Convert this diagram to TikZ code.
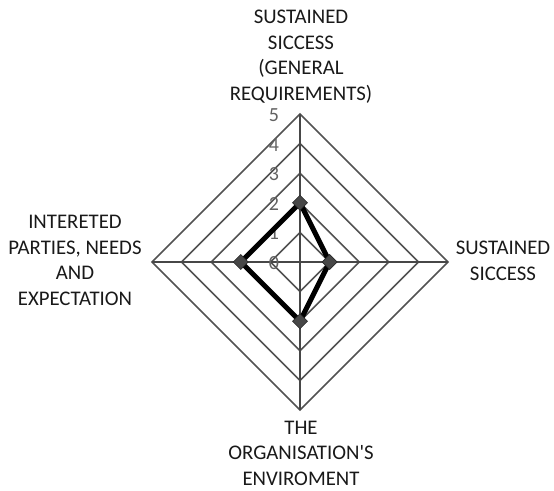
\documentclass[tikz,border=0pt]{standalone}
\usepackage{fontspec}
\setmainfont{Carlito}
\usetikzlibrary{calc}
\begin{document}
\begin{tikzpicture}[x=1pt,y=-1pt,
  grid/.style={draw=black!68,line width=1.6pt},
  spoke/.style={draw=black!72,line width=2.2pt},
  series/.style={draw=black,line width=5pt,line join=round},
  markerfill/.style={fill=black!72,draw=black!85,line width=0.6pt},
  lbl/.style={align=center,font=\fontsize{20.8}{25.6}\selectfont,text=black!90,inner sep=0pt},
  tick/.style={font=\fontsize{20}{22}\selectfont,text=black!62,inner sep=0pt}]
\useasboundingbox (0,0) rectangle (554,490);
\def\u{29.6}
\coordinate (c) at (300,262);
% grid diamonds
\foreach \k in {1,...,5}{
  \draw[grid] (300,262-\k*\u) -- (300+\k*\u,262) -- (300,262+\k*\u) -- (300-\k*\u,262) -- cycle;
}
% spokes
\coordinate (vt) at (300,262-5*\u);
\coordinate (vr) at (300+5*\u,262);
\coordinate (vb) at (300,262+5*\u);
\coordinate (vl) at (300-5*\u,262);
\draw[spoke] (c) -- (vt);
\draw[spoke] (c) -- (vr);
\draw[spoke] (c) -- (vb);
\draw[spoke] (c) -- (vl);
% tick labels
\foreach \k in {0,...,5}{
  \node[tick] (t\k) at (274,263-\k*\u) {\k};
}
% data
\coordinate (dt) at (300,262-2*\u);
\coordinate (dr) at (300+1*\u,262);
\coordinate (db) at (300,262+2*\u);
\coordinate (dl) at (300-2*\u,262);
\draw[series] (dt) -- (dr) -- (db) -- (dl) -- cycle;
\foreach \p in {dt,dr,db,dl}{
  \fill[markerfill] ($(\p)+(0,-7.5)$) -- ($(\p)+(7.5,0)$) -- ($(\p)+(0,7.5)$) -- ($(\p)+(-7.5,0)$) -- cycle;
}
% axis labels
\node[lbl] (ltop) at (301,56.5) {SUSTAINED\\SICCESS\\(GENERAL\\REQUIREMENTS)};
\node[lbl] (lright) at (503,261) {SUSTAINED\\SICCESS};
\node[lbl] (lleft) at (75,260.5) {INTERETED\\PARTIES, NEEDS\\AND\\EXPECTATION};
\node[lbl] (lbot) at (301,453) {THE\\ORGANISATION\textquotesingle S\\ENVIROMENT};
\end{tikzpicture}
\end{document}
